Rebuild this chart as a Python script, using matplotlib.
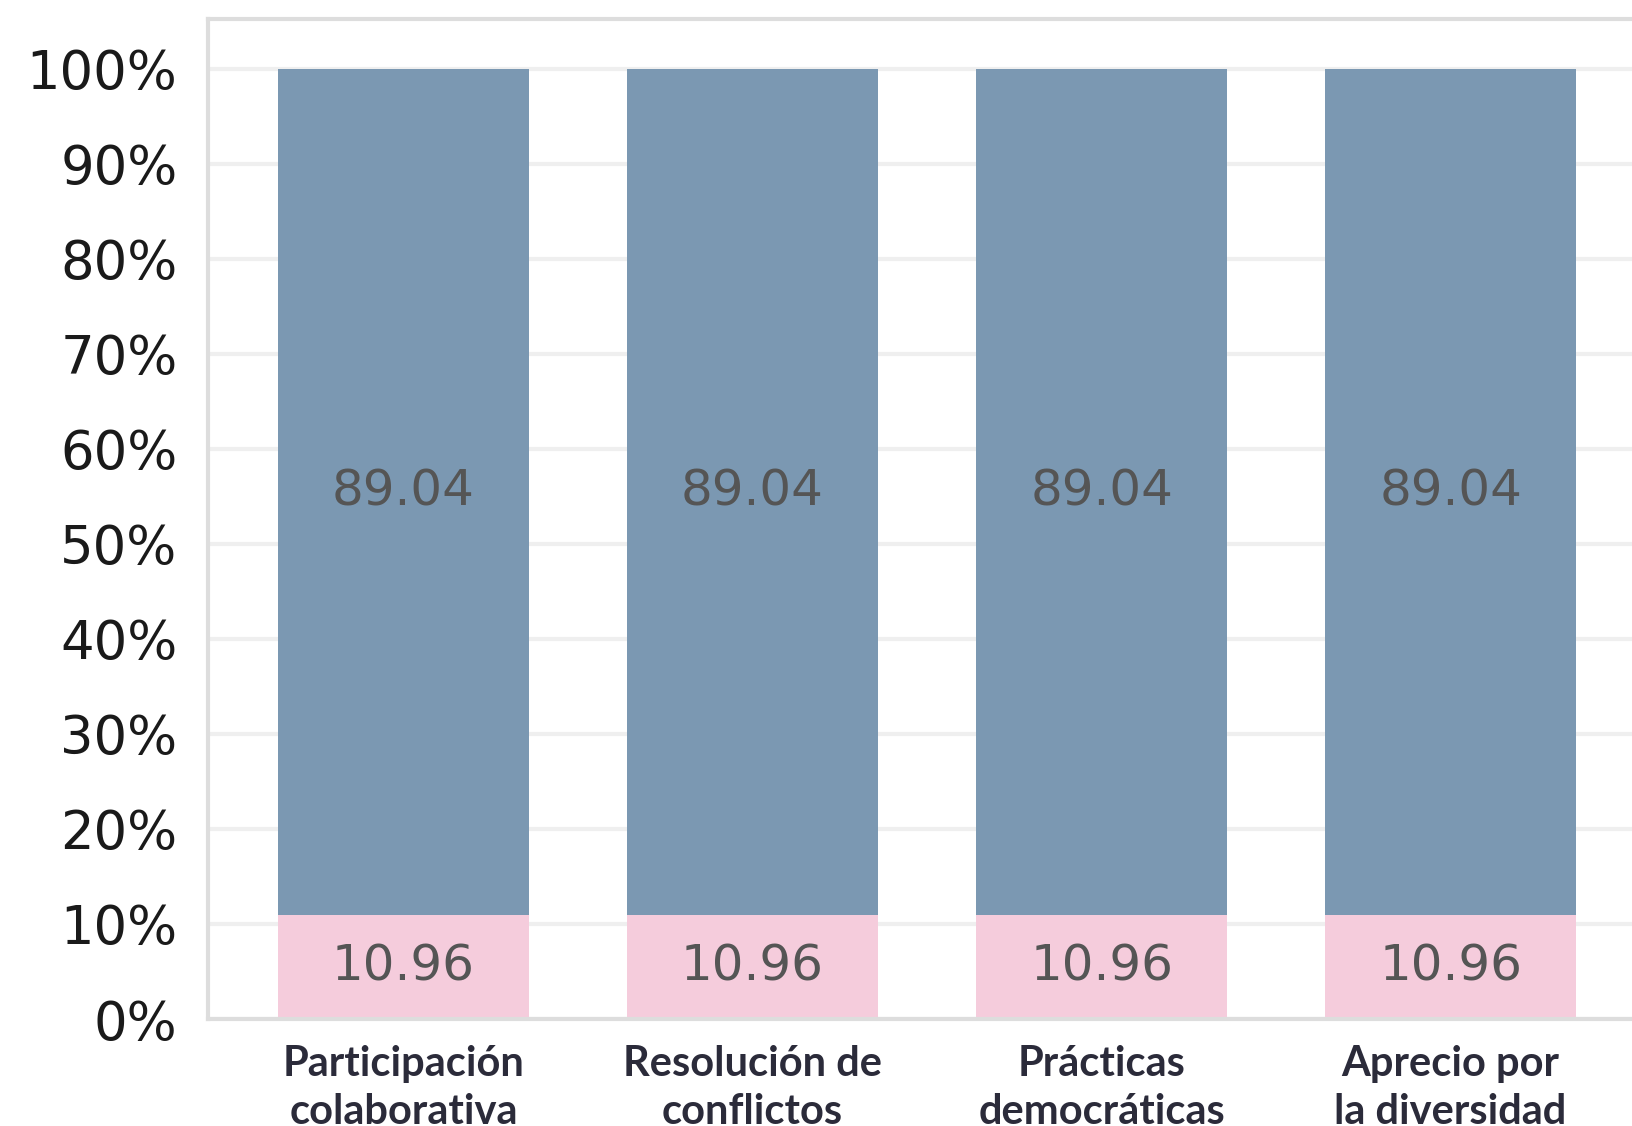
import matplotlib
matplotlib.use("Agg")
import matplotlib.pyplot as plt
import numpy as np

# Datos del gráfico
categorias = ["Participación\ncolaborativa", "Resolución de\nconflictos",
              "Prácticas\ndemocráticas", "Aprecio por\nla diversidad"]
valores_bajo = [10.96, 10.96, 10.96, 10.96]
valores_alto = [89.04, 89.04, 89.04, 89.04]
ticks_y = [0, 10, 20, 30, 40, 50, 60, 70, 80, 90, 100]

color_rosa = "#F5CCDC"
color_azul = "#7B98B2"

fig = plt.figure(figsize=(16.33, 11.26), dpi=100)
ax = fig.add_axes([0.1274, 0.095, 0.8806, 0.888])

x = np.arange(len(categorias))
ancho = 0.72

b1 = ax.bar(x, valores_bajo, width=ancho, color=color_rosa, zorder=2)
b2 = ax.bar(x, valores_alto, width=ancho, bottom=valores_bajo, color=color_azul, zorder=2)

ax.bar_label(b1, labels=[f"{v:.2f}" for v in valores_bajo], label_type="center",
             fontsize=36, color="#555555", fontweight="medium")
ax.bar_label(b2, labels=[f"{v:.2f}" for v in valores_alto], label_type="center",
             fontsize=36, color="#555555", fontweight="medium")

ax.set_xlim(-0.56, 3.56)
ax.set_ylim(0, 105.2)
ax.set_yticks(ticks_y)
ax.set_yticklabels([f"{t}%" for t in ticks_y], fontsize=38, color="#1a1a1a")
ax.set_xticks(x)
ax.set_xticklabels(categorias, fontsize=30, color="#2b2b3a", family="Lato",
                   fontweight="bold", linespacing=1.3)

ax.tick_params(axis="both", length=0)
ax.tick_params(axis="y", pad=22)
ax.tick_params(axis="x", pad=19)

ax.grid(axis="y", color="#EFEFEF", linewidth=3, zorder=0)
ax.set_axisbelow(True)
for lado in ["left", "top", "bottom", "right"]:
    ax.spines[lado].set_color("#DDDDDD")
    ax.spines[lado].set_linewidth(3)

fig.savefig("out.png", dpi=100)
